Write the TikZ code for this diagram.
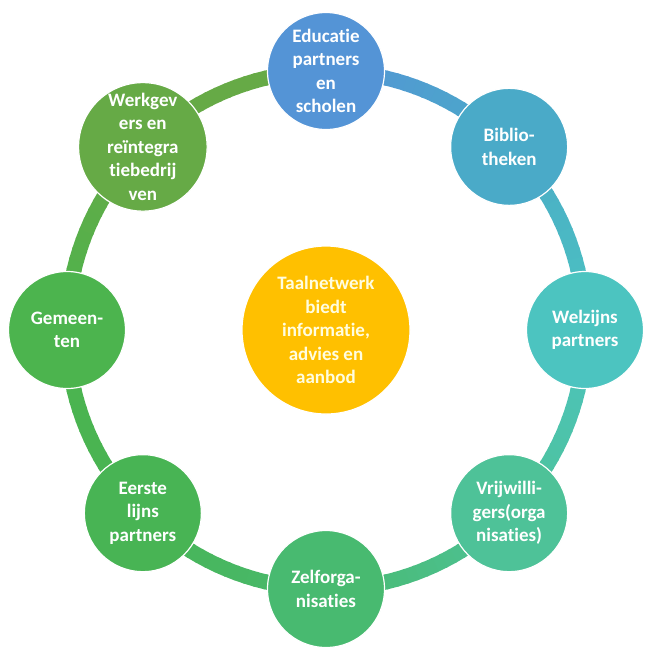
\documentclass[tikz,border=0pt]{standalone}
\usepackage{fontspec}
\setmainfont[Ligatures=NoCommon]{Carlito}
\begin{document}
\begin{tikzpicture}[x=1pt,y=1pt,
  sat/.style={circle, draw=white, line width=1.2pt, minimum size=117pt, inner sep=0pt,
    text=white, align=center, font=\bfseries\fontsize{19}{23.5}\selectfont},
  hub/.style={circle, draw=white, line width=1.2pt, minimum size=168pt, inner sep=0pt,
    text=white!88!yellow, align=center, font=\bfseries\fontsize{19}{23.5}\selectfont}]
\definecolor{cEdu}{RGB}{84,148,214}
\definecolor{cBib}{RGB}{74,170,200}
\definecolor{cWel}{RGB}{76,196,192}
\definecolor{cVri}{RGB}{78,194,152}
\definecolor{cZel}{RGB}{72,186,112}
\definecolor{cEer}{RGB}{72,180,84}
\definecolor{cGem}{RGB}{76,180,78}
\definecolor{cWer}{RGB}{102,170,70}
\definecolor{cCen}{RGB}{255,192,0}
\useasboundingbox (0,0) rectangle (652,-649);
\fill[white] (0,0) rectangle (652,-649);
\coordinate (c) at (326,-330);
\def\R{259}
% ring with colour blends between neighbouring circles
\foreach \ca/\cb/\a in {cEdu/cBib/90, cBib/cWel/45, cWel/cVri/0, cVri/cZel/-45, cZel/cEer/-90, cEer/cGem/-135, cGem/cWer/-180, cWer/cWer/-225}{
  \foreach \k in {0,...,19}{
    \pgfmathsetmacro\s{\a-45*\k/20+0.25}
    \pgfmathsetmacro\e{\a-45*(\k+1)/20-0.25}
    \pgfmathsetmacro\p{100-100*(\k+0.5)/20}
    \draw[line width=15pt, color=\ca!\p!\cb] (c) ++(\s:\R) arc[start angle=\s, end angle=\e, radius=\R];
  }
}
\node[sat, fill=cEdu] (edu) at ([shift={(90:\R)}]c) {Educatie\\partners\\en\\scholen};
\node[sat, fill=cBib] (bib) at ([shift={(45:\R)}]c) {Biblio-\\theken};
\node[sat, fill=cWel] (wel) at ([shift={(0:\R)}]c) {Welzijns\\partners};
\node[sat, fill=cVri] (vri) at ([shift={(-45:\R)}]c) {Vrijwilli-\\gers(orga\\nisaties)};
\node[sat, fill=cZel] (zel) at ([shift={(-90:\R)}]c) {Zelforga-\\nisaties};
\node[sat, fill=cEer] (eer) at ([shift={(-135:\R)}]c) {Eerste\\lijns\\partners};
\node[sat, fill=cGem] (gem) at ([shift={(180:\R)}]c) {Gemeen-\\ten};
\node[sat, fill=cWer] (wer) at ([shift={(135:\R)}]c) {Werkgev\\ers en\\reïntegra\\tiebedrij\\ven};
\node[hub, fill=cCen] (tn) at (c) {Taalnetwerk\\biedt\\informatie,\\advies en\\aanbod};
\end{tikzpicture}
\end{document}
